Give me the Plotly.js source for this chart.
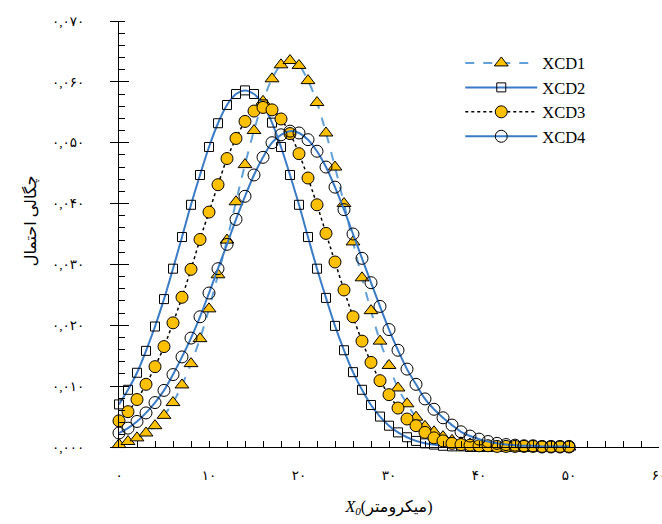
<!DOCTYPE html>
<html>
<head>
<meta charset="utf-8">
<script src="https://cdn.plot.ly/plotly-3.0.1.min.js"></script>
<style>
html,body{margin:0;padding:0;background:#fff;}
#chart{width:662px;height:524px;}
</style>
</head>
<body>
<div id="chart"></div>
<script>
// ---- data ----
var xValues = [0,1,2,3,4,5,6,7,8,9,10,11,12,13,14,15,16,17,18,19,20,21,22,23,24,25,26,27,28,29,30,31,32,33,34,35,36,37,38,39,40,41,42,43,44,45,46,47,48,49,50];

var xcd1 = [0.0004,0.0009,0.0015,0.0023,0.0035,0.0052,0.0073,0.0102,0.0137,0.0178,
            0.0227,0.0283,0.0340,0.0403,0.0464,0.0520,0.0568,0.0605,0.0628,0.0635,
            0.0627,0.0602,0.0566,0.0516,0.0460,0.0400,0.0337,0.0278,0.0224,0.0174,
            0.0134,0.0097,0.0071,0.0049,0.0034,0.0025,0.0017,0.0011,0.0007,0.0005,
            0.0003,0.0002,0.0001,0.0001,0.0001,0.0000,0.0000,0.0000,0.0000,0.0000,0.0000];

var xcd2 = [0.0070,0.0094,0.0122,0.0158,0.0198,0.0243,0.0293,0.0345,0.0398,0.0447,
            0.0493,0.0532,0.0562,0.0580,0.0586,0.0580,0.0563,0.0533,0.0493,0.0447,
            0.0398,0.0345,0.0293,0.0245,0.0199,0.0159,0.0123,0.0094,0.0069,0.0050,
            0.0035,0.0024,0.0016,0.0010,0.0006,0.0004,0.0002,0.0001,0.0001,0.0000,
            0.0000,0.0000,0.0000,0.0000,0.0000,0.0000,0.0000,0.0000,0.0000,0.0000,0.0000];

var xcd3 = [0.0043,0.0058,0.0078,0.0103,0.0132,0.0165,0.0204,0.0246,0.0292,0.0341,
            0.0386,0.0431,0.0474,0.0507,0.0535,0.0552,0.0558,0.0554,0.0539,0.0515,
            0.0482,0.0442,0.0398,0.0351,0.0304,0.0258,0.0214,0.0174,0.0139,0.0109,
            0.0086,0.0064,0.0046,0.0035,0.0024,0.0015,0.0010,0.0006,0.0004,0.0003,
            0.0002,0.0002,0.0001,0.0001,0.0001,0.0001,0.0001,0.0000,0.0000,0.0000,0.0000];

var xcd4 = [0.0023,0.0031,0.0042,0.0056,0.0073,0.0093,0.0119,0.0148,0.0179,0.0214,
            0.0253,0.0293,0.0333,0.0374,0.0412,0.0447,0.0476,0.0500,0.0513,0.0519,
            0.0516,0.0505,0.0486,0.0460,0.0427,0.0390,0.0350,0.0310,0.0270,0.0231,
            0.0193,0.0159,0.0128,0.0103,0.0079,0.0062,0.0048,0.0036,0.0025,0.0018,
            0.0013,0.0009,0.0006,0.0004,0.0003,0.0002,0.0002,0.0001,0.0001,0.0001,0.0001];

var seriesNames = ['XCD1','XCD2','XCD3','XCD4'];

var yTickVals = [0,0.01,0.02,0.03,0.04,0.05,0.06,0.07];
var yTickText = ['۰,۰۰۰','۰,۰۱۰','۰,۰۲۰','۰,۰۳۰','۰,۰۴۰','۰,۰۵۰','۰,۰۶۰','۰,۰۷۰'];
var xTickVals = [0,10,20,30,40,50,60];
var xTickText = ['۰','۱۰','۲۰','۳۰','۴۰','۵۰','۶۰'];

var xTitle = '<i>X</i><sub><i>0</i></sub>(میکرومتر)';
var yTitle = 'چگالی احتمال';

// ---- styles ----
var FONT = 'Liberation Serif, DejaVu Sans, serif';
var BLUE = '#3a7bc8';
var LBLUE = '#62a0d8';
var GOLD = '#ffc000';

var traces = [
  {x:xValues, y:xcd1, name:seriesNames[0], type:'scatter', mode:'lines+markers', cliponaxis:false,
   line:{color:LBLUE, width:2, dash:'dash', shape:'spline'},
   marker:{symbol:'triangle-up', size:12, color:GOLD, line:{color:'#000', width:1}}},
  {x:xValues, y:xcd2, name:seriesNames[1], type:'scatter', mode:'lines+markers', cliponaxis:false,
   line:{color:BLUE, width:2, shape:'spline'},
   marker:{symbol:'square-open', size:9, color:'#000', line:{color:'#000', width:1}}},
  {x:xValues, y:xcd3, name:seriesNames[2], type:'scatter', mode:'lines+markers', cliponaxis:false,
   line:{color:'#000', width:1.5, dash:'dot', shape:'spline'},
   marker:{symbol:'circle', size:12, color:GOLD, line:{color:'#000', width:1}}},
  {x:xValues, y:xcd4, name:seriesNames[3], type:'scatter', mode:'lines+markers', cliponaxis:false,
   line:{color:BLUE, width:2, shape:'spline'},
   marker:{symbol:'circle-open', size:12, color:'#000', line:{color:'#000', width:1}}},
  {x:[], y:[], yaxis:'y2', type:'scatter', mode:'markers', showlegend:false, hoverinfo:'skip'}
];

var layout = {
  width:662, height:524,
  margin:{l:119, r:3, t:21, b:77},
  paper_bgcolor:'#fff', plot_bgcolor:'#fff',
  font:{family:FONT, size:14, color:'#000'},
  showlegend:true,
  legend:{x:0.632, y:0.942, xanchor:'left', yanchor:'top', bgcolor:'rgba(0,0,0,0)',
          font:{family:FONT, size:16.5, color:'#000'}, itemwidth:72, tracegroupgap:0},
  xaxis:{range:[0,60], showline:true, linecolor:'#000', linewidth:1, mirror:false,
         showgrid:false, zeroline:false,
         tickmode:'array', tickvals:xTickVals, ticktext:xTickText,
         ticks:'inside', ticklen:6, tickcolor:'#000', tickwidth:1,
         minor:{ticks:'inside', dtick:2, ticklen:6, tickcolor:'#000', tickwidth:1, showgrid:false},
         ticklabelstandoff:16, ticklabeloverflow:'allow',
         tickfont:{family:FONT, size:13.5, color:'#000'},
         title:{text:xTitle, font:{family:FONT, size:16, color:'#000'}, standoff:18}},
  yaxis:{range:[0,0.07], showline:true, linecolor:'#000', linewidth:1,
         showgrid:false, zeroline:false,
         tickmode:'array', tickvals:yTickVals, ticktext:yTickText,
         ticks:'outside', ticklen:8, tickcolor:'#000', tickwidth:1,
         minor:{ticks:'inside', dtick:0.002, ticklen:6, tickcolor:'#000', tickwidth:1, showgrid:false},
         ticklabelstandoff:23, ticklabeloverflow:'allow',
         tickfont:{family:FONT, size:13.5, color:'#000'}},
  yaxis2:{overlaying:'y', side:'left', range:[0,0.07], showline:false, showgrid:false, zeroline:false,
          tickmode:'array', tickvals:yTickVals, ticks:'inside', ticklen:10, tickcolor:'#000', tickwidth:1,
          showticklabels:false},
  annotations:[
    {text:yTitle, xref:'paper', yref:'paper', x:(30-119)/540, y:0.53, textangle:-90,
     showarrow:false, xanchor:'center', yanchor:'middle', font:{family:FONT, size:16, color:'#000'}}
  ]
};

Plotly.newPlot('chart', traces, layout, {displayModeBar:false, staticPlot:true});
</script>
</body>
</html>
